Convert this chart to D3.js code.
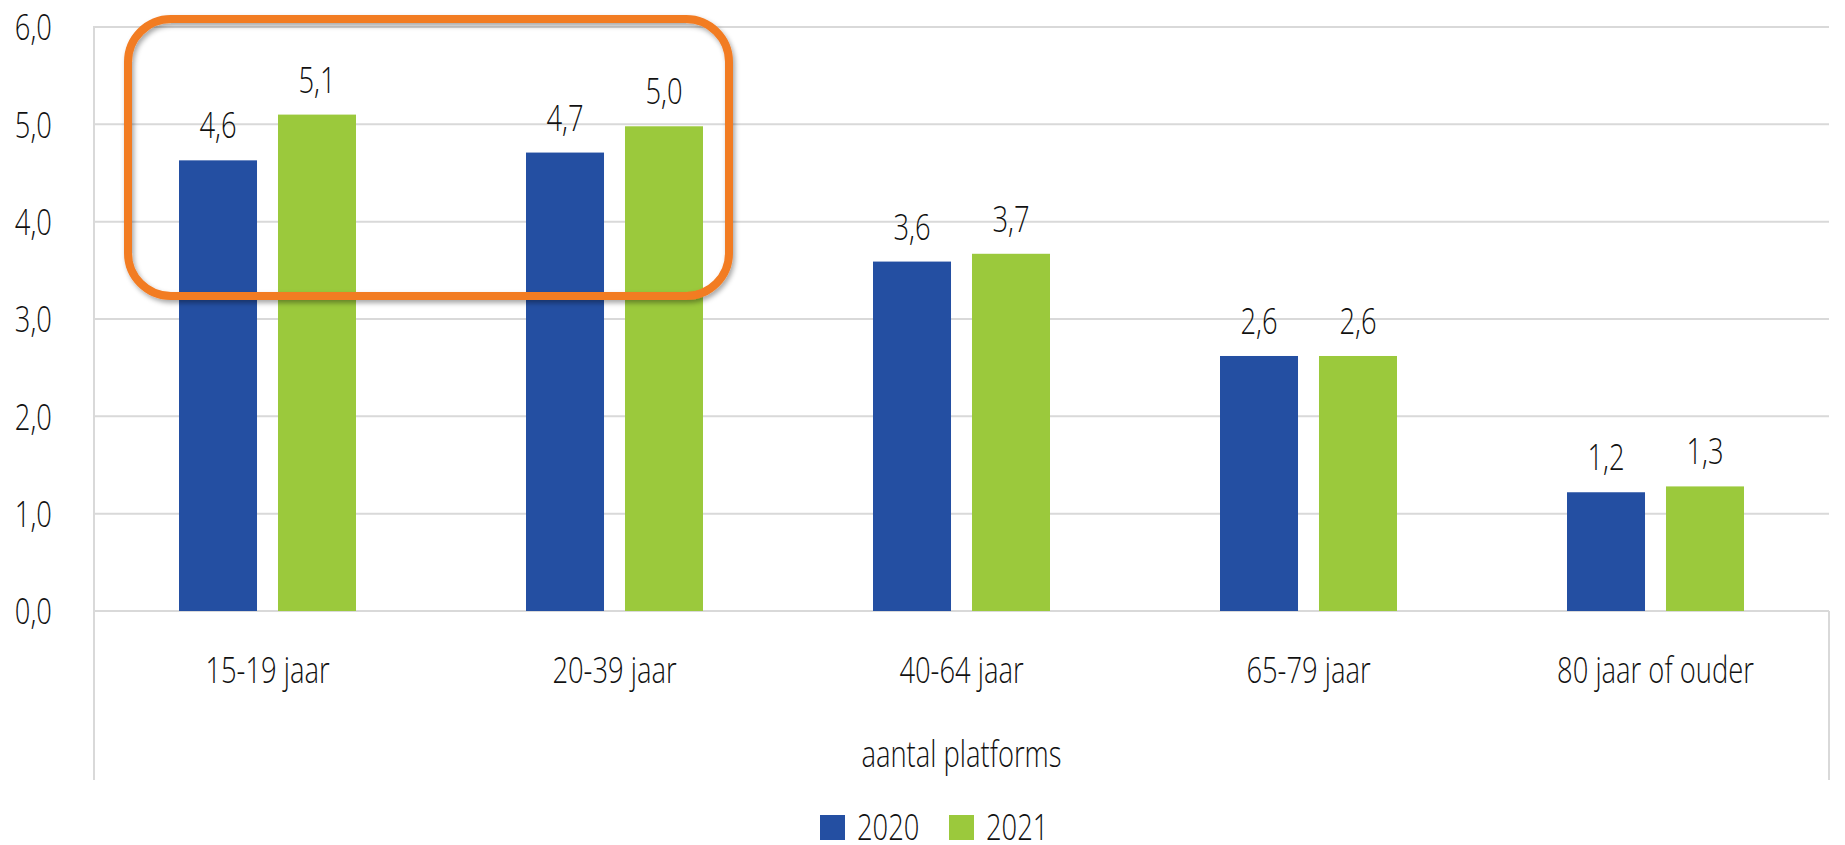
<!DOCTYPE html>
<html>
<head>
<meta charset="utf-8">
<script src="https://cdn.jsdelivr.net/npm/d3@7"></script>
<style>
  body { margin: 0; background: #fff; }
  text { font-family: "Open Sans", "DejaVu Sans Condensed", sans-serif; font-weight: 350; fill: #111; font-size: 37px; }
  .grid line { stroke: #d9d9d9; stroke-width: 2; }
  .frame { stroke: #d9d9d9; stroke-width: 2; }
</style>
</head>
<body>
<script>
var categories = ["15-19 jaar", "20-39 jaar", "40-64 jaar", "65-79 jaar", "80 jaar of ouder"];
var series = ["2020", "2021"];
var values2020 = [4.63, 4.71, 3.59, 2.62, 1.22];
var values2021 = [5.10, 4.98, 3.67, 2.62, 1.28];
var labels2020 = ["4,6", "4,7", "3,6", "2,6", "1,2"];
var labels2021 = ["5,1", "5,0", "3,7", "2,6", "1,3"];
var yTicks = [0, 1, 2, 3, 4, 5, 6];
var colors = ["#244fa2", "#9bc93c"];
var axisTitle = "aantal platforms";

var w = 1845;
var h = 845;
var plotLeft = 94, plotRight = 1829, plotTop = 27, plotBottom = 611, frameBottom = 780;
var squeeze = 0.74; // the source font is a condensed one, we fake it

// put a text at x,y and squeeze it sideways
function place(x, y) {
  return "translate(" + x + "," + y + ") scale(" + squeeze + ",1)";
}

var dataset = categories.map(function(c, i) {
  return {
    cat: c,
    bars: [
      { s: series[0], v: values2020[i], label: labels2020[i] },
      { s: series[1], v: values2021[i], label: labels2021[i] }
    ]
  };
});

var svg = d3.select("body")
    .append("svg")
    .attr("width", w)
    .attr("height", h);

var defs = svg.append("defs");
var shadow = defs.append("filter")
    .attr("id", "shadow")
    .attr("x", "-10%").attr("y", "-10%")
    .attr("width", "120%").attr("height", "120%");
shadow.append("feDropShadow")
    .attr("dx", 2)
    .attr("dy", 3)
    .attr("stdDeviation", 2.5)
    .attr("flood-color", "#000")
    .attr("flood-opacity", 0.35);

var x0 = d3.scaleBand()
    .domain(categories)
    .range([plotLeft, plotRight])
    .padding(0);

var x1 = d3.scaleBand()
    .domain(series)
    .range([85, x0.bandwidth() - 85])
    .paddingInner(0.212);

var yScale = d3.scaleLinear()
    .domain([0, 6])
    .range([plotBottom, plotTop]);

// gridlines
svg.append("g")
    .attr("class", "grid")
    .selectAll("line")
    .data(yTicks)
    .enter()
    .append("line")
    .attr("x1", plotLeft)
    .attr("x2", plotRight)
    .attr("y1", function(d) { return yScale(d); })
    .attr("y2", function(d) { return yScale(d); });

// frame lines
svg.append("line")
    .attr("class", "frame")
    .attr("x1", plotLeft).attr("x2", plotLeft)
    .attr("y1", yScale(6) - 1).attr("y2", frameBottom);

svg.append("line")
    .attr("class", "frame")
    .attr("x1", plotRight).attr("x2", plotRight)
    .attr("y1", yScale(0)).attr("y2", frameBottom);

// y tick labels
svg.append("g")
    .selectAll("text")
    .data(yTicks)
    .enter()
    .append("text")
    .attr("transform", function(d) { return place(52, yScale(d)); })
    .attr("dy", "0.36em")
    .attr("text-anchor", "end")
    .text(function(d) { return d3.format(".1f")(d).replace(".", ","); });

// bars
var groups = svg.selectAll("g.cat")
    .data(dataset)
    .enter()
    .append("g")
    .attr("class", "cat")
    .attr("transform", function(d) { return "translate(" + x0(d.cat) + ",0)"; });

groups.selectAll("rect")
    .data(function(d) { return d.bars; })
    .enter()
    .append("rect")
    .attr("x", function(d) { return x1(d.s); })
    .attr("width", x1.bandwidth())
    .attr("y", function(d) { return yScale(d.v); })
    .attr("height", function(d) { return yScale(0) - yScale(d.v); })
    .attr("fill", function(d, i) { return colors[i]; });

groups.selectAll("text")
    .data(function(d) { return d.bars; })
    .enter()
    .append("text")
    .attr("transform", function(d) { return place(x1(d.s) + x1.bandwidth() / 2, yScale(d.v) - 22); })
    .attr("text-anchor", "middle")
    .text(function(d) { return d.label; });

// category labels
svg.append("g")
    .selectAll("text")
    .data(categories)
    .enter()
    .append("text")
    .attr("transform", function(d) { return place(x0(d) + x0.bandwidth() / 2, 683); })
    .attr("text-anchor", "middle")
    .text(function(d) { return d; });

svg.append("text")
    .attr("transform", place((plotLeft + plotRight) / 2, 767))
    .attr("text-anchor", "middle")
    .text(axisTitle);

// legend
var legend = svg.append("g")
    .selectAll("g")
    .data(series)
    .enter()
    .append("g")
    .attr("transform", function(d, i) { return "translate(" + (820 + i * 129) + ",815)"; });

legend.append("rect")
    .attr("width", 25)
    .attr("height", 25)
    .attr("fill", function(d, i) { return colors[i]; });

legend.append("text")
    .attr("transform", place(37, 25))
    .text(function(d) { return d; });

// orange highlight around the first two groups
var hx1 = x0(categories[0]) + 34;
var hx2 = x0(categories[1]) + x0.bandwidth() - 59;
var hy1 = yScale(6) - 8;
var hy2 = yScale(3) - 23;
svg.append("rect")
    .attr("x", hx1)
    .attr("y", hy1)
    .attr("width", hx2 - hx1)
    .attr("height", hy2 - hy1)
    .attr("rx", 43)
    .attr("ry", 43)
    .attr("fill", "none")
    .attr("stroke", "#f27b21")
    .attr("stroke-width", 8)
    .attr("filter", "url(#shadow)");
</script>
</body>
</html>
